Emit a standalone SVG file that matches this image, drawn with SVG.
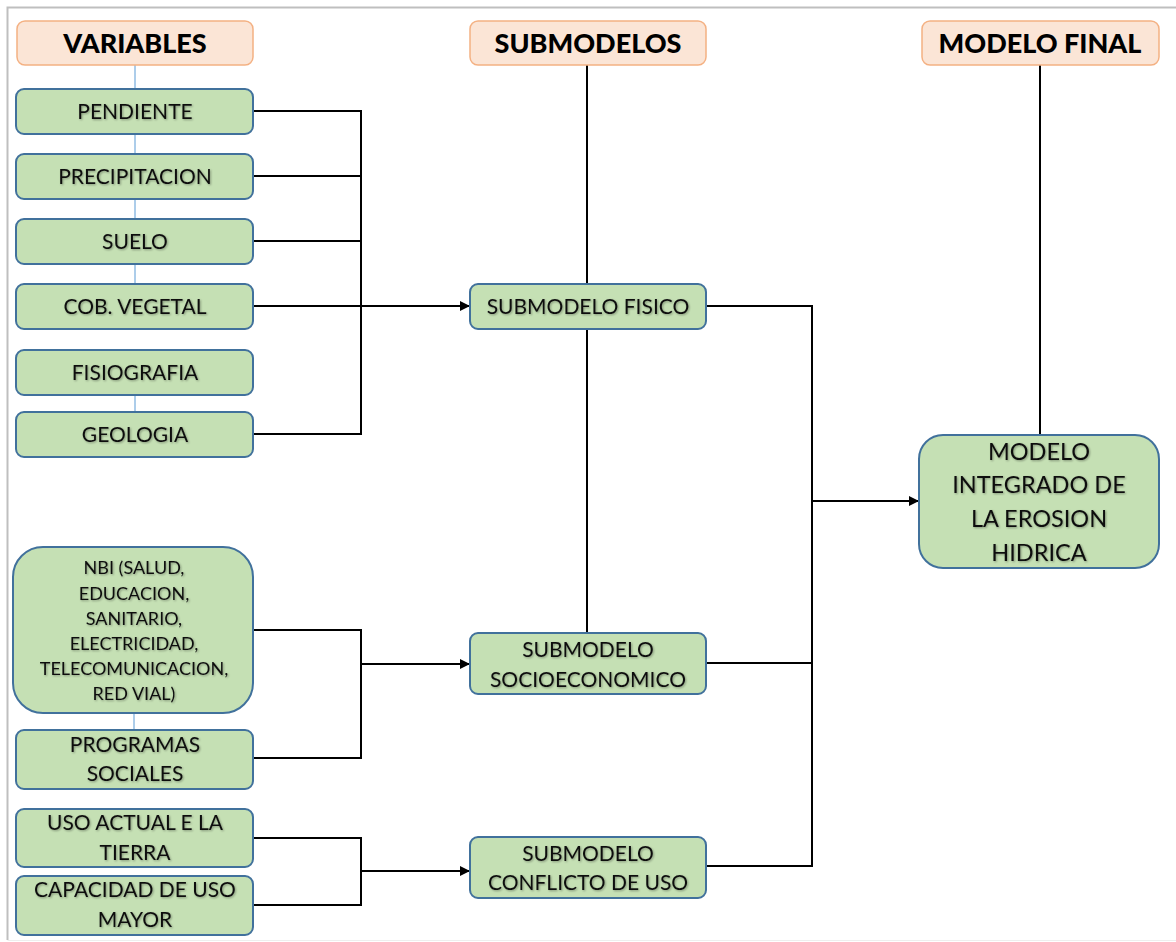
<svg xmlns="http://www.w3.org/2000/svg" width="1176" height="942" viewBox="0 0 1176 942">
  <defs>
    <marker id="arrow" viewBox="0 0 10 10" refX="10" refY="5" markerWidth="11" markerHeight="10" markerUnits="userSpaceOnUse" orient="auto">
      <path d="M0,0 L10,5 L0,10 z" fill="#000"/>
    </marker>
    <filter id="soft" x="-5%" y="-20%" width="110%" height="140%">
      <feGaussianBlur in="SourceAlpha" stdDeviation="1"/>
      <feOffset dx="1" dy="1" result="sh"/>
      <feComponentTransfer><feFuncA type="linear" slope="0.35"/></feComponentTransfer>
      <feMerge><feMergeNode/><feMergeNode in="SourceGraphic"/></feMerge>
    </filter>
  </defs>
  <style>
    .head rect { fill: #FBE5D6; stroke: #F4B183; stroke-width: 1.5; }
    .head text { font-family: Lato, "Open Sans", sans-serif; font-weight: 900; font-size: 27px; fill: #000; text-anchor: middle; }
    .box rect { fill: #C5E0B4; stroke: #41719C; stroke-width: 2; }
    .box text { font-family: Lato, "Open Sans", sans-serif; font-size: 21px; fill: #111; text-anchor: middle; filter: url(#soft); }
    .box text.small { font-size: 18px; }
    .box text.big { font-size: 23.5px; }
    .wire { fill: none; stroke: #000; stroke-width: 2; }
    .guide { fill: none; stroke: #5B9BD5; stroke-width: 1; }
  </style>

  <rect width="1176" height="942" fill="#fff"/>
  <!-- page frame -->
  <path d="M1176,7.5 H7.5 V940" fill="none" stroke="#BFBFBF" stroke-width="2"/>
  <path d="M7.5,940.5 H1176" fill="none" stroke="#EEEEEE" stroke-width="1"/>

  <!-- connectors -->
  <g id="connectors">
    <!-- thin guides in the variables column -->
    <path class="guide" d="M135,65 V89 M135,134 V154 M135,199 V219 M135,264 V284 M135,395 V412 M134,713 V730"/>
    <!-- physical variables into the physical submodel -->
    <path class="wire" d="M253,111 H361 V434 H253 M253,176 H361 M253,241 H361 M253,306 H361"/>
    <path class="wire" d="M361,306 H470" marker-end="url(#arrow)"/>
    <!-- socioeconomic variables -->
    <path class="wire" d="M253,630 H361 V758 H253"/>
    <path class="wire" d="M361,664 H470" marker-end="url(#arrow)"/>
    <!-- land use variables -->
    <path class="wire" d="M253,838 H361 V905 H253"/>
    <path class="wire" d="M361,871 H470" marker-end="url(#arrow)"/>
    <!-- column headers -->
    <path class="wire" d="M587,65 V284 M587,329 V633"/>
    <path class="wire" d="M1040,65 V435"/>
    <!-- submodels into the final model -->
    <path class="wire" d="M706,306 H812 V866 H706 M706,663 H812"/>
    <path class="wire" d="M812,501 H919" marker-end="url(#arrow)"/>
  </g>

  <!-- headers -->
  <g id="h-variables" class="head">
    <rect x="17" y="21" width="236" height="44" rx="8"/>
    <text x="135" y="53">VARIABLES</text>
  </g>
  <g id="h-submodelos" class="head">
    <rect x="470" y="21" width="236" height="44" rx="8"/>
    <text x="588" y="53">SUBMODELOS</text>
  </g>
  <g id="h-modelo-final" class="head">
    <rect x="922" y="21" width="237" height="44" rx="8"/>
    <text x="1040" y="53">MODELO FINAL</text>
  </g>

  <!-- variables -->
  <g id="pendiente" class="box">
    <rect x="16" y="89" width="237" height="45" rx="8"/>
    <text x="135" y="119">PENDIENTE</text>
  </g>
  <g id="precipitacion" class="box">
    <rect x="16" y="154" width="237" height="45" rx="8"/>
    <text x="135" y="184">PRECIPITACION</text>
  </g>
  <g id="suelo" class="box">
    <rect x="16" y="219" width="237" height="45" rx="8"/>
    <text x="135" y="249">SUELO</text>
  </g>
  <g id="cob-vegetal" class="box">
    <rect x="16" y="284" width="237" height="45" rx="8"/>
    <text x="135" y="314">COB. VEGETAL</text>
  </g>
  <g id="fisiografia" class="box">
    <rect x="16" y="350" width="237" height="45" rx="8"/>
    <text x="135" y="380">FISIOGRAFIA</text>
  </g>
  <g id="geologia" class="box">
    <rect x="16" y="412" width="237" height="45" rx="8"/>
    <text x="135" y="442">GEOLOGIA</text>
  </g>
  <g id="nbi" class="box">
    <rect x="13" y="547" width="240" height="166" rx="30"/>
    <text class="small" x="134" y="574">NBI (SALUD,</text>
    <text class="small" x="134" y="600">EDUCACION,</text>
    <text class="small" x="134" y="625">SANITARIO,</text>
    <text class="small" x="134" y="650">ELECTRICIDAD,</text>
    <text class="small" x="134" y="675">TELECOMUNICACION,</text>
    <text class="small" x="134" y="700">RED VIAL)</text>
  </g>
  <g id="programas-sociales" class="box">
    <rect x="16" y="730" width="237" height="59" rx="8"/>
    <text x="135" y="752">PROGRAMAS</text>
    <text x="135" y="781">SOCIALES</text>
  </g>
  <g id="uso-actual" class="box">
    <rect x="16" y="809" width="237" height="58" rx="8"/>
    <text x="135" y="830">USO ACTUAL E LA</text>
    <text x="135" y="860">TIERRA</text>
  </g>
  <g id="capacidad-uso" class="box">
    <rect x="16" y="876" width="237" height="59" rx="8"/>
    <text x="135" y="897">CAPACIDAD DE USO</text>
    <text x="135" y="927">MAYOR</text>
  </g>

  <!-- submodels -->
  <g id="submodelo-fisico" class="box">
    <rect x="470" y="284" width="236" height="45" rx="8"/>
    <text x="588" y="314">SUBMODELO FISICO</text>
  </g>
  <g id="submodelo-socioeconomico" class="box">
    <rect x="470" y="633" width="236" height="61" rx="8"/>
    <text x="588" y="657">SUBMODELO</text>
    <text x="588" y="687">SOCIOECONOMICO</text>
  </g>
  <g id="submodelo-conflicto" class="box">
    <rect x="470" y="837" width="236" height="61" rx="8"/>
    <text x="588" y="861">SUBMODELO</text>
    <text x="588" y="890">CONFLICTO DE USO</text>
  </g>

  <!-- final model -->
  <g id="modelo-integrado" class="box">
    <rect x="919" y="435" width="240" height="133" rx="24"/>
    <text class="big" x="1039" y="460">MODELO</text>
    <text class="big" x="1039" y="493">INTEGRADO DE</text>
    <text class="big" x="1039" y="527">LA EROSION</text>
    <text class="big" x="1039" y="561">HIDRICA</text>
  </g>
</svg>
